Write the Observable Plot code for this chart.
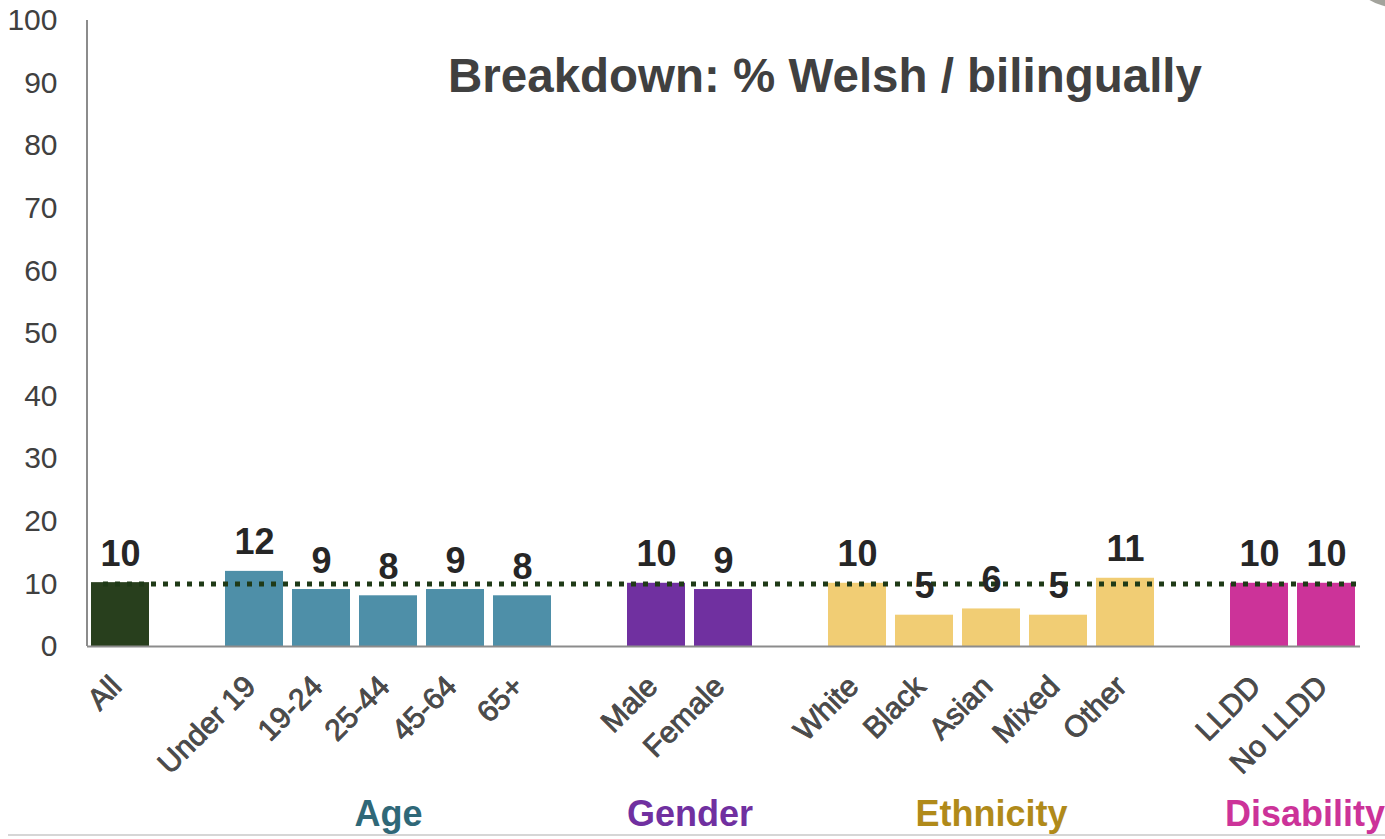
<!DOCTYPE html>
<html>
<head>
<meta charset="utf-8">
<script src="https://cdn.jsdelivr.net/npm/d3@7"></script>
<script src="https://cdn.jsdelivr.net/npm/@observablehq/plot@0.6"></script>
<style>
  html, body { margin: 0; padding: 0; background: #fff; overflow: hidden; }
  #wrap { position: relative; width: 1385px; height: 839px; }
  #bottomline { position: absolute; left: 8px; right: 0; top: 834px; height: 0; border-top: 2px solid #d6d6d6; }
  #corner { position: absolute; left: 1352px; top: -62px; width: 96px; height: 70px; border-radius: 50%; background: #a3a39c; }
  svg { font-family: "Liberation Sans", Arial, sans-serif; }
</style>
</head>
<body>
<div id="wrap">
  <div id="chart"></div>
  <div id="bottomline"></div>
  <div id="corner"></div>
</div>
<script>
const title = "Breakdown: % Welsh / bilingually";
const categories = ["All", "Under 19", "19-24", "25-44", "45-64", "65+", "Male", "Female", "White", "Black", "Asian", "Mixed", "Other", "LLDD", "No LLDD"];
const values = [10.2, 12, 9.1, 8.1, 9.1, 8.1, 10.1, 9.1, 10.1, 5, 6, 5, 10.9, 10.1, 10.1];
const valueLabels = ["10", "12", "9", "8", "9", "8", "10", "9", "10", "5", "6", "5", "11", "10", "10"];
const groupOf = ["All", "Age", "Age", "Age", "Age", "Age", "Gender", "Gender", "Ethnicity", "Ethnicity", "Ethnicity", "Ethnicity", "Ethnicity", "Disability", "Disability"];
const groupNames = ["Age", "Gender", "Ethnicity", "Disability"];
const barColors = {All: "#283f1d", Age: "#4e8fa8", Gender: "#7030a0", Ethnicity: "#f1cd74", Disability: "#cc3399"};
const groupLabelColors = {Age: "#2f6878", Gender: "#7030a0", Ethnicity: "#b08a1a", Disability: "#cc3399"};
const yTicks = [0, 10, 20, 30, 40, 50, 60, 70, 80, 90, 100];
const referenceValue = 10;

const data = categories.map((c, i) => ({cat: c, value: values[i], label: valueLabels[i], group: groupOf[i]}));

// x domain: categories with an empty slot between groups
const domain = [];
categories.forEach((c, i) => {
  if (i > 0 && groupOf[i] !== groupOf[i - 1]) domain.push("gap" + i);
  domain.push(c);
});

const W = 1385, H = 833, mL = 87, mR = 25, mT = 20, mB = 187;
const step = (W - mL - mR) / domain.length;

const groupMarks = groupNames.map((g, gi) => {
  const cats = categories.filter((c, i) => groupOf[i] === g);
  const mid = cats[Math.floor((cats.length - 1) / 2)];
  const dx = (cats.length % 2 === 0 ? step / 2 : 0) + (gi === groupNames.length - 1 ? 12 : 0);
  return Plot.text([g], {
    x: () => mid, y: () => 0, text: d => d,
    dx, dy: 179, lineAnchor: "bottom", textAnchor: "middle",
    fontSize: 36, fontWeight: "bold", fill: groupLabelColors[g]
  });
});

const chart = Plot.plot({
  width: W, height: H,
  marginLeft: mL, marginRight: mR, marginTop: mT, marginBottom: mB,
  style: {fontFamily: "'Liberation Sans', Arial, sans-serif", background: "transparent", overflow: "visible"},
  x: {type: "band", domain, paddingInner: 0.13, paddingOuter: 0.065, axis: null},
  y: {domain: [0, 100], axis: null},
  color: {type: "identity"},
  marks: [
    Plot.axisY({ticks: yTicks, tickSize: 0, tickPadding: 30, fontSize: 30, label: null, fill: "#404040", stroke: "#404040", strokeWidth: 0.7}),
    Plot.barY(data, {x: "cat", y: "value", fill: d => barColors[d.group]}),
    Plot.ruleY([0], {stroke: "#8c8c8c", strokeWidth: 2}),
    Plot.ruleX([categories[0]], {y1: 0, y2: 100, dx: -step / 2, stroke: "#8c8c8c", strokeWidth: 2}),
    Plot.ruleY([referenceValue], {stroke: "#1f3a17", strokeWidth: 5, strokeDasharray: "5,7", insetLeft: 16, insetRight: 2}),
    Plot.text(data, {x: "cat", y: "value", text: "label", dy: -17, lineAnchor: "bottom", fontSize: 36, fontWeight: "bold", fill: "#262626"}),
    Plot.text(data, {x: "cat", y: () => 0, text: "cat", rotate: -45, textAnchor: "end", lineAnchor: "middle", dx: -4, dy: 35, fontSize: 30, fill: "#4a4a4a", stroke: "#333333", strokeWidth: 0.8}),
    ...groupMarks,
    Plot.text([title], {frameAnchor: "top", dx: 101, dy: 71, lineAnchor: "bottom", fontSize: 47.5, fontWeight: "bold", fill: "#404040"})
  ]
});
document.getElementById("chart").appendChild(chart);
</script>
</body>
</html>
